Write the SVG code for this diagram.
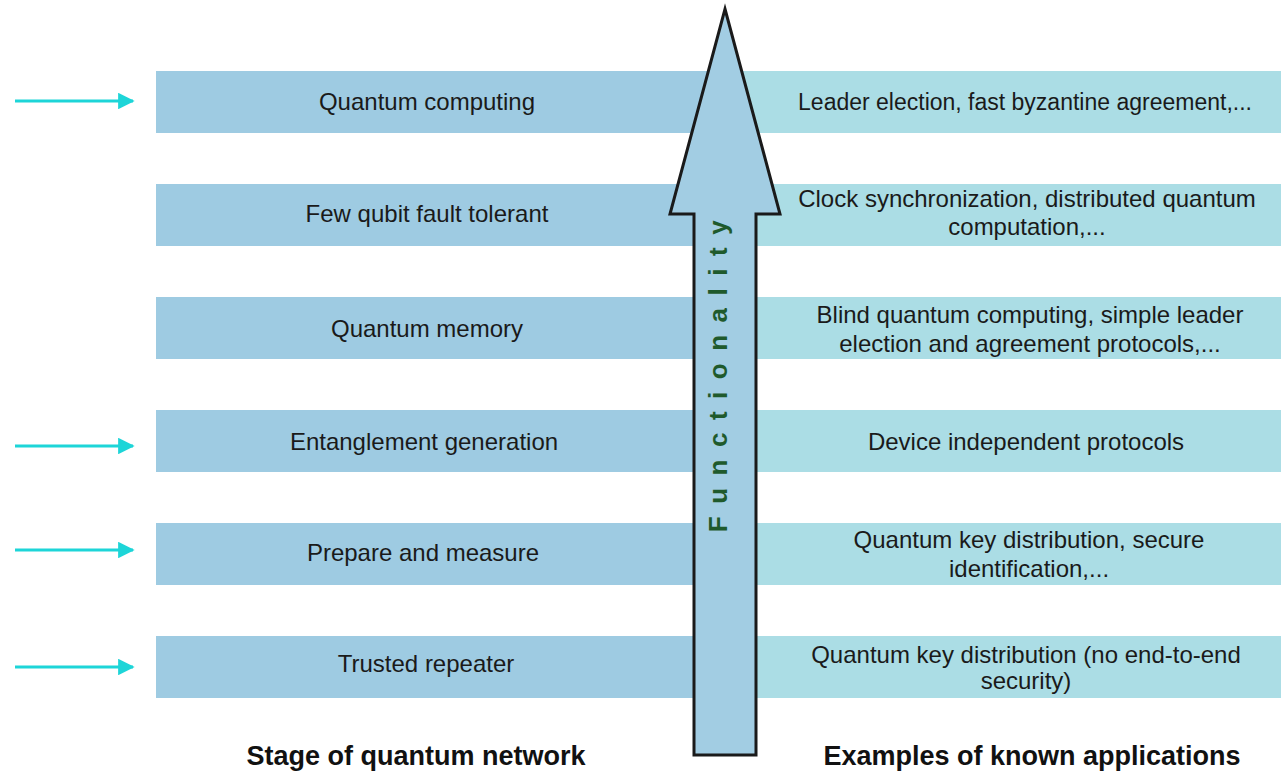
<svg xmlns="http://www.w3.org/2000/svg" width="1281" height="773" viewBox="0 0 1281 773">
<style>
.lb{fill:#9ecbe2}
.rb{fill:#abdde5}
.t{font-family:"Liberation Sans",Arial,sans-serif;font-size:24px;fill:#1a1a1a;text-anchor:middle}
.h{font-family:"Liberation Sans",Arial,sans-serif;font-size:27px;font-weight:bold;fill:#111;text-anchor:middle}
.c{stroke:#1dd5d8;stroke-width:3;fill:none}
</style>
<defs>
<marker id="ah" viewBox="0 0 10 10" refX="9" refY="5" markerWidth="5.5" markerHeight="5.5" orient="auto" markerUnits="strokeWidth">
<path d="M0,0 L10,5 L0,10 z" fill="#1dd5d8"/>
</marker>
</defs>
<rect width="1281" height="773" fill="#fff"/>
<g id="row1"><rect class="lb" x="156" y="71" width="570" height="62"/><rect class="rb" x="726" y="71" width="555" height="62"/>
<text class="t" x="427" y="110">Quantum computing</text>
<text class="t" x="1025" y="110" style="font-size:23px">Leader election, fast byzantine agreement,...</text></g>
<g id="row2"><rect class="lb" x="156" y="184" width="570" height="62"/><rect class="rb" x="726" y="184" width="555" height="62"/>
<text class="t" x="427" y="222">Few qubit fault tolerant</text>
<text class="t" x="1027" y="207">Clock synchronization, distributed quantum</text>
<text class="t" x="1027" y="235">computation,...</text></g>
<g id="row3"><rect class="lb" x="156" y="297" width="570" height="62"/><rect class="rb" x="726" y="297" width="555" height="62"/>
<text class="t" x="427" y="337">Quantum memory</text>
<text class="t" x="1030" y="323">Blind quantum computing, simple leader</text>
<text class="t" x="1030" y="352">election and agreement protocols,...</text></g>
<g id="row4"><rect class="lb" x="156" y="410" width="570" height="62"/><rect class="rb" x="726" y="410" width="555" height="62"/>
<text class="t" x="424" y="450">Entanglement generation</text>
<text class="t" x="1026" y="450">Device independent protocols</text></g>
<g id="row5"><rect class="lb" x="156" y="523" width="570" height="62"/><rect class="rb" x="726" y="523" width="555" height="62"/>
<text class="t" x="423" y="561">Prepare and measure</text>
<text class="t" x="1029" y="548">Quantum key distribution, secure</text>
<text class="t" x="1029" y="577">identification,...</text></g>
<g id="row6"><rect class="lb" x="156" y="636" width="570" height="62"/><rect class="rb" x="726" y="636" width="555" height="62"/>
<text class="t" x="426" y="672">Trusted repeater</text>
<text class="t" x="1026" y="663">Quantum key distribution (no end-to-end</text>
<text class="t" x="1026" y="689">security)</text></g>
<g id="functionality">
<path d="M725,9 L780,214 L756,214 L756,755 L694,755 L694,214 L670,214 Z" fill="#a2cde3" stroke="#1a1a1a" stroke-width="3" stroke-linejoin="miter"/>
<text transform="translate(727,370) rotate(-90)" font-family="Liberation Sans,Arial,sans-serif" font-size="26" font-weight="bold" fill="#1f5a2c" text-anchor="middle" letter-spacing="12.5">Functionality</text>
</g>
<g id="connectors">
<line class="c" x1="15" y1="101" x2="133" y2="101" marker-end="url(#ah)"/>
<line class="c" x1="15" y1="446" x2="133" y2="446" marker-end="url(#ah)"/>
<line class="c" x1="15" y1="550" x2="133" y2="550" marker-end="url(#ah)"/>
<line class="c" x1="15" y1="667" x2="133" y2="667" marker-end="url(#ah)"/>
</g>
<g id="labels">
<text class="h" x="416" y="765">Stage of quantum network</text>
<text class="h" x="1032" y="765">Examples of known applications</text>
</g>
</svg>
